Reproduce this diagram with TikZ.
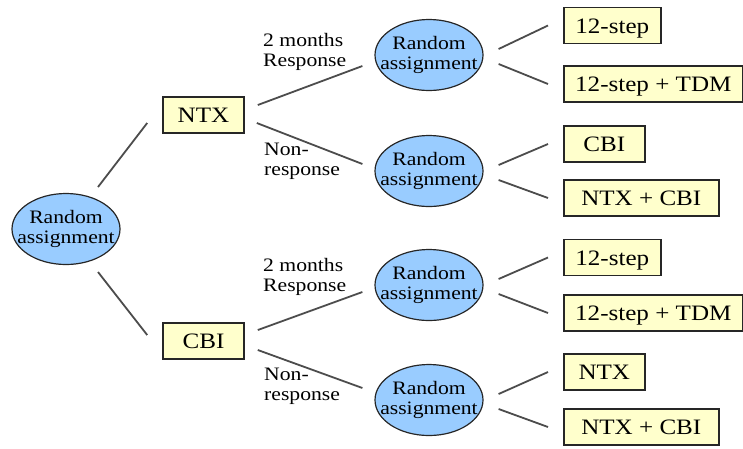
\documentclass[tikz,border=0pt]{standalone}
\usepackage{fontspec}
\setmainfont{Liberation Serif}
\newfontfamily\diagfont[FakeStretch=1.14]{Liberation Serif}
\usetikzlibrary{shapes.geometric}
\definecolor{randblue}{HTML}{99CCFF}
\definecolor{armyellow}{HTML}{FFFFCC}
\tikzset{
  pick/.style={ellipse, draw=black!85, line width=1.2pt, fill=randblue,
    minimum width=108pt, minimum height=71pt, inner xsep=-14pt, inner ysep=0pt,
    align=center, font=\diagfont\fontsize{19}{20}\selectfont},
  arm/.style={rectangle, draw=black!85, line width=1.6pt, fill=armyellow,
    anchor=west, minimum height=36pt, text height=15pt, text depth=0pt,
    inner sep=0pt, font=\diagfont\fontsize{22}{24}\selectfont},
  link/.style={draw=black!70, line width=1.8pt},
  note/.style={align=left, inner sep=0pt, anchor=west,
    font=\diagfont\fontsize{19}{20}\selectfont}
}
\begin{document}
\begin{tikzpicture}[x=1pt, y=-1pt]
    \useasboundingbox (0,0) rectangle (743,448);
    % first randomisation
    \node(root) at ( 66,229) [pick] {Random\\assignment};
    \node(ntx)  at (203.5,115) [arm, anchor=center, minimum width=81pt] {NTX};
    \node(cbi)  at (203.5,341) [arm, anchor=center, minimum width=81pt] {CBI};
    % second randomisation
    \node(r1) at (429, 55) [pick] {Random\\assignment};
    \node(r2) at (429,171) [pick] {Random\\assignment};
    \node(r3) at (429,285) [pick] {Random\\assignment};
    \node(r4) at (429,400) [pick] {Random\\assignment};
    % arms
    \node(a1) at (563, 25.5) [arm, minimum width= 97pt] {12-step};
    \node(a2) at (563, 84)   [arm, minimum width=179pt] {12-step + TDM};
    \node(a3) at (563,144)   [arm, minimum width= 81pt] {CBI};
    \node(a4) at (563,198)   [arm, minimum width=155pt] {NTX + CBI};
    \node(a5) at (563,257.5) [arm, minimum width= 97pt] {12-step};
    \node(a6) at (563,313)   [arm, minimum width=179pt] {12-step + TDM};
    \node(a7) at (563,372)   [arm, minimum width= 81pt] {NTX};
    \node(a8) at (563,427)   [arm, minimum width=155pt] {NTX + CBI};
    % labels
    \node(resp1)  at (263, 52)  [note] {2 months\\Response};
    \node(nresp1) at (264,161)  [note] {Non-\\response};
    \node(resp2)  at (263,277)  [note] {2 months\\Response};
    \node(nresp2) at (264,386)  [note] {Non-\\response};
    % connectors
    \draw[link] ([shift={(32,-42)}]root.center) -- ([shift={(-15, 8)}]ntx.west);
    \draw[link] ([shift={(32, 43)}]root.center) -- ([shift={(-15,-6)}]cbi.west);
    \draw[link] ([shift={(13,-10)}]ntx.east) -- ([shift={(-12, 11)}]r1.west);
    \draw[link] ([shift={(12,  8)}]ntx.east) -- ([shift={(-12, -7)}]r2.west);
    \draw[link] ([shift={(13,-11)}]cbi.east) -- ([shift={(-12,  7)}]r3.west);
    \draw[link] ([shift={(13,  9)}]cbi.east) -- ([shift={(-12,-12)}]r4.west);
    \draw[link] ([shift={(15,-6)}]r1.east) -- ([xshift=-15]a1.west);
    \draw[link] ([shift={(15, 9)}]r1.east) -- ([xshift=-15]a2.west);
    \draw[link] ([shift={(15,-6)}]r2.east) -- ([xshift=-15]a3.west);
    \draw[link] ([shift={(15, 9)}]r2.east) -- ([xshift=-15]a4.west);
    \draw[link] ([shift={(15,-6)}]r3.east) -- ([xshift=-15]a5.west);
    \draw[link] ([shift={(15, 9)}]r3.east) -- ([xshift=-15]a6.west);
    \draw[link] ([shift={(15,-6)}]r4.east) -- ([xshift=-15]a7.west);
    \draw[link] ([shift={(15, 9)}]r4.east) -- ([xshift=-15]a8.west);
\end{tikzpicture}
\end{document}
